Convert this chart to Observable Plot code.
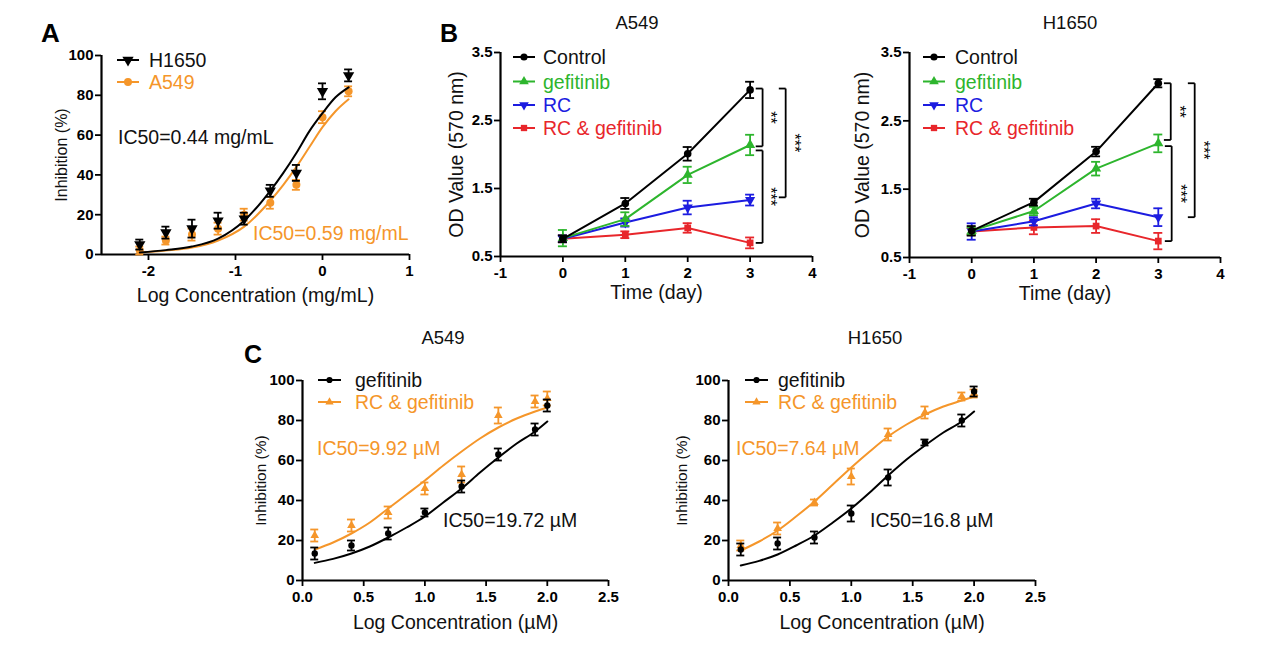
<!DOCTYPE html>
<html><head><meta charset="utf-8">
<script src="https://cdn.jsdelivr.net/npm/d3@7"></script>
<script src="https://cdn.jsdelivr.net/npm/@observablehq/plot@0.6"></script>
<style>
body{margin:0;background:#fff;}
#fig{position:relative;width:1269px;height:646px;overflow:hidden;background:#fff;font-family:"Liberation Sans",Arial,sans-serif;}
.panel{position:absolute;}
.panel svg [aria-label$="tick label"]{font-size:15px;font-weight:bold;font-family:"Liberation Sans",Arial,sans-serif;}
#overlay{position:absolute;left:0;top:0;pointer-events:none;}
</style></head><body><div id="fig"></div>
<script>
// ---------------- DATA ----------------
// Panel A
const concA = [-2.1, -1.8, -1.5, -1.2, -0.9, -0.6, -0.3, 0, 0.3];
const h1650A = [5, 11, 13, 17, 18, 32, 41, 82, 90];
const h1650AErr = [2.5, 3, 4.5, 4, 3, 3, 4, 4, 3];
const a549A = [2, 7, 10, 13, 20, 26, 35, 69, 82];
const a549AErr = [2, 2, 3, 3, 3, 3, 2.5, 3, 2.5];
const fitXA = [-2.1, -1.8, -1.5, -1.2, -0.9, -0.6, -0.45, -0.3, -0.15, 0, 0.15, 0.3];
const fitH1650A = [1, 2.2, 4, 8, 17, 32, 41, 51, 62, 71, 79, 84];
const fitA549A = [1, 2, 3.5, 7, 14, 27, 35, 44, 54, 64, 72, 78];

// Panel B
const days = [0, 1, 2, 3];
const bSeries = ["Control", "gefitinib", "RC", "RC & gefitinib"];
const bA549 = {
  "Control": [0.76, 1.28, 2.01, 2.95],
  "gefitinib": [0.77, 1.05, 1.70, 2.14],
  "RC": [0.76, 1.00, 1.22, 1.33],
  "RC & gefitinib": [0.76, 0.82, 0.92, 0.70]
};
const bA549Err = {
  "Control": [0.05, 0.08, 0.10, 0.12],
  "gefitinib": [0.12, 0.10, 0.12, 0.15],
  "RC": [0.05, 0.06, 0.10, 0.08],
  "RC & gefitinib": [0.05, 0.05, 0.07, 0.08]
};
const bH1650 = {
  "Control": [0.89, 1.31, 2.05, 3.05],
  "gefitinib": [0.89, 1.18, 1.80, 2.17],
  "RC": [0.88, 1.03, 1.29, 1.09],
  "RC & gefitinib": [0.88, 0.94, 0.96, 0.74]
};
const bH1650Err = {
  "Control": [0.07, 0.05, 0.07, 0.06],
  "gefitinib": [0.05, 0.06, 0.10, 0.13],
  "RC": [0.12, 0.06, 0.07, 0.13],
  "RC & gefitinib": [0.05, 0.10, 0.10, 0.12]
};
const bracketsA549 = [
  {x: 3.2, y1: 2.97, y2: 2.12, label: "**"},
  {x: 3.57, y1: 2.97, y2: 1.37, label: "***"},
  {x: 3.2, y1: 2.06, y2: 0.70, label: "***"}
];
const bracketsH1650 = [
  {x: 3.2, y1: 3.05, y2: 2.22, label: "**"},
  {x: 3.585, y1: 3.05, y2: 1.09, label: "***"},
  {x: 3.215, y1: 2.13, y2: 0.74, label: "***"}
];

// Panel C
const concC = [0.1, 0.4, 0.7, 1.0, 1.3, 1.6, 1.9, 2.0];
const cA549Gef = [13.5, 17.5, 23.5, 34, 47, 63, 75.5, 87.5];
const cA549GefErr = [3, 2.5, 3, 2, 3, 3, 3, 3];
const cA549Rcg = [22.5, 27.5, 34, 46, 53, 82.5, 89.5, 91];
const cA549RcgErr = [3, 3, 3, 3, 4, 4, 3, 3.5];
const cH1650Gef = [15.5, 18.5, 21.5, 33.5, 51.5, 69, 80, 94.5];
const cH1650GefErr = [3, 3, 3, 4, 4, 1.5, 3, 2.5];
const cH1650Rcg = [17.5, 26, 39, 52, 73, 84, 92, 93.5];
const cH1650RcgErr = [2.5, 3, 1.5, 4, 3, 3, 2, 2];
const fitXC = [0.1, 0.25, 0.4, 0.55, 0.7, 0.85, 1.0, 1.15, 1.3, 1.45, 1.6, 1.75, 1.9, 2.0];
const fitA549Gef = [8.8, 10.8, 13.5, 17, 21.5, 26.5, 32, 39, 46, 54, 61.5, 68.5, 74.5, 79.5];
const fitA549Rcg = [15.5, 19, 23.5, 29, 36, 43, 50, 57.5, 64.5, 71, 76.5, 81, 84.5, 86.5];
const fitH1650Gef = [7.5, 9.8, 13, 17.5, 22.5, 29, 36, 44, 52.5, 60.5, 67.5, 74, 79.5, 84.5];
const fitH1650Rcg = [15, 19.5, 25, 32, 39.5, 48, 56.5, 64.5, 72, 78, 83, 87, 90, 92];

// ---------------- STYLE ----------------
const FONT = '"Liberation Sans", Arial, sans-serif';
const ORANGE = "#F5962A";
const colorsB = {"Control": "#000000", "gefitinib": "#2DB52D", "RC": "#1C1CE0", "RC & gefitinib": "#E8262B"};

const triangleDown = {
  draw(context, size) {
    const s3 = Math.sqrt(3);
    const y = -Math.sqrt(size / (s3 * 3));
    context.moveTo(0, -y * 2);
    context.lineTo(-s3 * y, y);
    context.lineTo(s3 * y, y);
    context.closePath();
  }
};
const symbolsB = {"Control": "circle", "gefitinib": "triangle", "RC": triangleDown, "RC & gefitinib": "square"};
const d3SymbolsB = {"Control": d3.symbolCircle, "gefitinib": d3.symbolTriangle, "RC": triangleDown, "RC & gefitinib": d3.symbolSquare};

const fig = document.getElementById("fig");

function zip(xs, ys, es) { return xs.map((x, i) => ({x, y: ys[i], e: es ? es[i] : 0})); }

function errorMarks(data, color, capW, sw = 1.8) {
  return [
    Plot.ruleX(data, {x: "x", y1: d => d.y - d.e, y2: d => d.y + d.e, stroke: color, strokeWidth: sw}),
    Plot.ruleY(data, {y: d => d.y + d.e, x1: d => d.x - capW, x2: d => d.x + capW, stroke: color, strokeWidth: sw}),
    Plot.ruleY(data, {y: d => d.y - d.e, x1: d => d.x - capW, x2: d => d.x + capW, stroke: color, strokeWidth: sw})
  ];
}

function makePanel(o) {
  const chart = Plot.plot({
    width: o.width, height: o.height,
    marginLeft: o.ml, marginRight: o.mr, marginTop: o.mt, marginBottom: o.mb,
    style: {fontFamily: FONT, fontSize: "14px", color: "#000", background: "transparent"},
    x: {domain: o.xDomain},
    y: {domain: o.yDomain},
    marks: [
      Plot.axisX({ticks: o.xTicks, tickFormat: o.xFmt, tickSize: 6, tickPadding: 5, strokeWidth: 1.8, label: null}),
      Plot.axisY({ticks: o.yTicks, tickFormat: o.yFmt, tickSize: 6, tickPadding: 2, strokeWidth: 1.8, label: null}),
      Plot.ruleX([o.xDomain[0]], {stroke: "#000", strokeWidth: 2.2}),
      Plot.ruleY([o.yDomain[0]], {stroke: "#000", strokeWidth: 2.2}),
      ...o.marks,
      Plot.text([o.ylabel], {frameAnchor: "left", dx: o.ylDx, rotate: -90, textAnchor: "middle", lineAnchor: "middle", fontSize: o.ylSize, fontWeight: "normal", fill: "#111"}),
      Plot.text([o.xlabel], {frameAnchor: "bottom", dy: o.xlDy, textAnchor: "middle", lineAnchor: "middle", fontSize: o.xlSize, fontWeight: "normal", fill: "#111"})
    ]
  });
  const div = document.createElement("div");
  div.className = "panel";
  div.style.left = o.left + "px";
  div.style.top = o.top + "px";
  div.style.width = o.width + "px";
  div.style.height = o.height + "px";
  div.appendChild(chart);
  fig.appendChild(div);
}

const fmt1 = d3.format(".1f");
const fmtInt = d => String(d);

// ---------- Panel A ----------
{
  const capW = 4 / 87.2;
  const hd = zip(concA, h1650A, h1650AErr);
  const ad = zip(concA, a549A, a549AErr);
  makePanel({
    left: 0, top: 0, width: 420, height: 310, ml: 101, mr: 11, mt: 55, mb: 56,
    xDomain: [-2.54, 1], yDomain: [0, 100],
    xTicks: [-2, -1, 0, 1], yTicks: [0, 20, 40, 60, 80, 100], xFmt: fmtInt, yFmt: fmtInt,
    ylabel: "Inhibition (%)", ylDx: -40, ylSize: 16,
    xlabel: "Log Concentration (mg/mL)", xlDy: 41, xlSize: 19.5,
    marks: [
      ...errorMarks(ad, ORANGE, capW),
      Plot.dot(ad, {x: "x", y: "y", r: 4, symbol: "circle", fill: ORANGE, stroke: "none"}),
      Plot.line(zip(fitXA, fitA549A), {x: "x", y: "y", stroke: ORANGE, strokeWidth: 2, curve: "monotone-x"}),
      ...errorMarks(hd, "#000", capW),
      Plot.dot(hd, {x: "x", y: "y", r: 4.2, symbol: triangleDown, fill: "#000", stroke: "none"}),
      Plot.line(zip(fitXA, fitH1650A), {x: "x", y: "y", stroke: "#000", strokeWidth: 2, curve: "monotone-x"})
    ]
  });
}

// ---------- Panel B ----------
function panelB(left, width, ml, mr, mt, mb, series, errs, brackets, ylDx) {
  const capW = 4.5 / 62.4;
  const marks = [];
  for (const s of [...bSeries].reverse()) {
    const d = zip(days, series[s], errs[s]);
    marks.push(Plot.line(d, {x: "x", y: "y", stroke: colorsB[s], strokeWidth: 2}));
    marks.push(...errorMarks(d, colorsB[s], capW));
    marks.push(Plot.dot(d, {x: "x", y: "y", r: 3.8, symbol: symbolsB[s], fill: colorsB[s], stroke: "none"}));
  }
  const tick = 0.11;
  marks.push(
    Plot.link(brackets, {x1: "x", x2: "x", y1: "y1", y2: "y2", stroke: "#000", strokeWidth: 1.8}),
    Plot.link(brackets, {x1: d => d.x - tick, x2: "x", y1: "y1", y2: "y1", stroke: "#000", strokeWidth: 1.8}),
    Plot.link(brackets, {x1: d => d.x - tick, x2: "x", y1: "y2", y2: "y2", stroke: "#000", strokeWidth: 1.8}),
    Plot.text(brackets, {x: "x", y: d => (d.y1 + d.y2) / 2, text: "label", rotate: 90, dx: 8, textAnchor: "middle", lineAnchor: "middle", fontSize: 16, fontWeight: "normal", fill: "#000"})
  );
  makePanel({
    left, top: 0, width, height: 310, ml, mr, mt, mb,
    xDomain: [-1, 4], yDomain: [0.5, 3.5],
    xTicks: [-1, 0, 1, 2, 3, 4], yTicks: [0.5, 1.5, 2.5, 3.5], xFmt: fmtInt, yFmt: fmt1,
    ylabel: "OD Value (570 nm)", ylDx: ylDx, ylSize: 19.5,
    xlabel: "Time (day)", xlDy: 36, xlSize: 19.5,
    marks
  });
}
panelB(420, 420, 80, 28, 52, 54, bA549, bA549Err, bracketsA549, -44);
panelB(840, 429, 69, 49, 52, 53, bH1650, bH1650Err, bracketsH1650, -47);

// ---------- Panel C ----------
function panelC(left, ml, mr, gef, gefErr, rcg, rcgErr, fitGef, fitRcg, ylDx) {
  const capW = 4 / 122.5;
  const g = zip(concC, gef, gefErr);
  const r = zip(concC, rcg, rcgErr);
  makePanel({
    left, top: 320, width: 430, height: 326, ml, mr, mt: 60, mb: 66,
    xDomain: [0, 2.5], yDomain: [0, 100],
    xTicks: [0, 0.5, 1, 1.5, 2, 2.5], yTicks: [0, 20, 40, 60, 80, 100], xFmt: fmt1, yFmt: fmtInt,
    ylabel: "Inhibition (%)", ylDx: ylDx, ylSize: 15.5,
    xlabel: "Log Concentration (\u00b5M)", xlDy: 42, xlSize: 19.5,
    marks: [
      ...errorMarks(r, ORANGE, capW),
      Plot.dot(r, {x: "x", y: "y", r: 3.2, symbol: "triangle", fill: ORANGE, stroke: "none"}),
      Plot.line(zip(fitXC, fitRcg), {x: "x", y: "y", stroke: ORANGE, strokeWidth: 2, curve: "monotone-x"}),
      ...errorMarks(g, "#000", capW),
      Plot.dot(g, {x: "x", y: "y", r: 3.2, symbol: "circle", fill: "#000", stroke: "none"}),
      Plot.line(zip(fitXC, fitGef), {x: "x", y: "y", stroke: "#000", strokeWidth: 2, curve: "monotone-x"})
    ]
  });
}
panelC(200, 102, 22, cA549Gef, cA549GefErr, cA549Rcg, cA549RcgErr, fitA549Gef, fitA549Rcg, -41);
panelC(630, 98, 25, cH1650Gef, cH1650GefErr, cH1650Rcg, cH1650RcgErr, fitH1650Gef, fitH1650Rcg, -46);

// ---------- Overlay: panel letters, titles, legends, IC50 labels ----------
const svg = d3.select(fig).append("svg").attr("id", "overlay")
  .attr("width", 1269).attr("height", 646)
  .style("font-family", FONT);

const letters = [
  {t: "A", x: 41, y: 42, s: 26},
  {t: "B", x: 440, y: 42, s: 25},
  {t: "C", x: 244, y: 363, s: 25}
];
svg.selectAll("text.letter").data(letters).join("text").attr("class", "letter")
  .attr("x", d => d.x).attr("y", d => d.y).attr("font-size", d => d.s)
  .attr("font-weight", "bold").text(d => d.t);

const titles = [
  {t: "A549", x: 637, y: 22},
  {t: "H1650", x: 1070, y: 22},
  {t: "A549", x: 443, y: 337},
  {t: "H1650", x: 875, y: 337}
];
svg.selectAll("text.title").data(titles).join("text").attr("class", "title")
  .attr("x", d => d.x).attr("y", d => d.y).attr("font-size", 18.5)
  .attr("text-anchor", "middle").attr("dominant-baseline", "central").attr("fill", "#111").text(d => d.t);

function legend(x0, x1, tx, rows) {
  for (const r of rows) {
    svg.append("line").attr("x1", x0).attr("x2", x1).attr("y1", r.y).attr("y2", r.y)
      .attr("stroke", r.c).attr("stroke-width", 2);
    svg.append("path").attr("d", d3.symbol().type(r.sym).size(r.size)())
      .attr("transform", `translate(${(x0 + x1) / 2},${r.y})`).attr("fill", r.c);
    svg.append("text").attr("x", tx).attr("y", r.y).attr("font-size", 19.5)
      .attr("dominant-baseline", "central").attr("fill", r.c === "#000000" ? "#111" : r.c).text(r.t);
  }
}
legend(117, 139, 149, [
  {t: "H1650", y: 60, c: "#000000", sym: triangleDown, size: 55},
  {t: "A549", y: 82, c: ORANGE, sym: d3.symbolCircle, size: 50}
]);
const rowsY = [57, 81.5, 105, 128];
legend(513, 535, 543, bSeries.map((s, i) => ({t: s, y: rowsY[i], c: colorsB[s], sym: d3SymbolsB[s], size: 40})));
legend(923, 945, 955, bSeries.map((s, i) => ({t: s, y: rowsY[i], c: colorsB[s], sym: d3SymbolsB[s], size: 40})));
legend(318, 341, 355, [
  {t: "gefitinib", y: 380, c: "#000000", sym: d3.symbolCircle, size: 30},
  {t: "RC & gefitinib", y: 402, c: ORANGE, sym: d3.symbolTriangle, size: 30}
]);
legend(745, 768, 778, [
  {t: "gefitinib", y: 380, c: "#000000", sym: d3.symbolCircle, size: 30},
  {t: "RC & gefitinib", y: 402, c: ORANGE, sym: d3.symbolTriangle, size: 30}
]);

const notes = [
  {t: "IC50=0.44 mg/mL", x: 118, y: 137, c: "#111"},
  {t: "IC50=0.59 mg/mL", x: 253, y: 233, c: ORANGE},
  {t: "IC50=9.92 \u00b5M", x: 317, y: 448, c: ORANGE},
  {t: "IC50=19.72 \u00b5M", x: 443, y: 520, c: "#111"},
  {t: "IC50=7.64 \u00b5M", x: 736, y: 448, c: ORANGE},
  {t: "IC50=16.8 \u00b5M", x: 870, y: 520, c: "#111"}
];
svg.selectAll("text.note").data(notes).join("text").attr("class", "note")
  .attr("x", d => d.x).attr("y", d => d.y).attr("font-size", 19.5)
  .attr("dominant-baseline", "central").attr("fill", d => d.c).text(d => d.t);
</script></body></html>
